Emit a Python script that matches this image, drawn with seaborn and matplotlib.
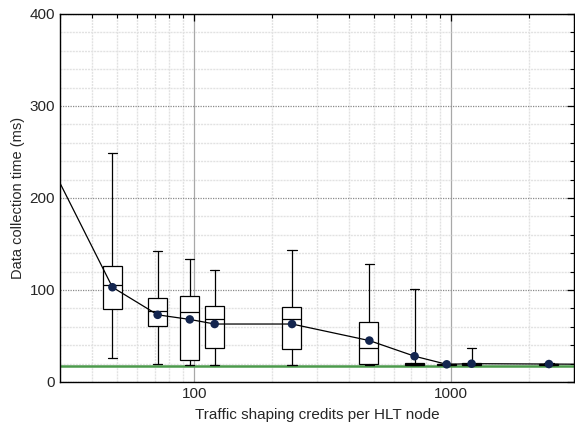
import matplotlib
matplotlib.use("Agg")
import matplotlib.pyplot as plt
import seaborn as sns
import pandas as pd
from matplotlib.ticker import MultipleLocator, LogLocator, NullFormatter

# Box statistics per traffic-shaping credit setting
box_credits = [48, 72, 96, 120, 240, 480, 720, 960, 1200, 2400]
whis_lo = [26, 20, 19, 19, 18.5, 19, 19, 19, 19, 19]
q1 = [79, 60.5, 23.5, 36.5, 35.5, 19.5, 19, 19, 19, 19]
median = [105, 77, 76.5, 68.5, 68, 37, 20, 19.3, 19.7, 19.5]
q3 = [126, 91, 94, 83, 82, 65, 21, 19.6, 20.5, 20]
whis_hi = [249, 142, 134, 122, 143, 128, 101, 20, 36.5, 20.5]

# Mean data collection time (line + dots)
mean_credits = [24, 48, 72, 96, 120, 240, 480, 720, 960, 1200, 2400, 4800]
mean_time = [270, 103, 73, 68, 63, 63, 45, 28, 19.2, 19.9, 19.5, 19]

baseline = 17.5

sns.set_theme(style="white")
plt.rcParams['font.family'] = ['Liberation Sans', 'DejaVu Sans']

fig = plt.figure(figsize=(5.75, 4.29), dpi=100)
ax = fig.add_axes([0.1043, 0.1096, 0.8937, 0.8578])
ax.set_xscale("log")

# grids
ax.xaxis.set_minor_locator(LogLocator(base=10, subs=range(2, 10)))
ax.xaxis.set_minor_formatter(NullFormatter())
ax.yaxis.set_major_locator(MultipleLocator(100))
ax.yaxis.set_minor_locator(MultipleLocator(20))
ax.grid(True, which="minor", color="#e2e2e2", linestyle=(0, (1.5, 0.7)), linewidth=1.0)
ax.grid(True, which="major", axis="y", color="#8a8a8a", linestyle=(0, (1, 1)), linewidth=0.9)
ax.grid(True, which="major", axis="x", color="#a8a8a8", linestyle="-", linewidth=0.9)
ax.set_axisbelow(True)

ax.axhline(baseline, color="#4c9a4c", linewidth=1.8, zorder=2)

stats = []
for i, c in enumerate(box_credits):
    stats.append({"med": median[i], "q1": q1[i], "q3": q3[i],
                  "whislo": whis_lo[i], "whishi": whis_hi[i], "fliers": []})
half = 10 ** 0.0368
widths = [c * (half - 1 / half) for c in box_credits]
ax.bxp(stats, positions=box_credits, widths=widths, patch_artist=True,
       showfliers=False, manage_ticks=False,
       boxprops=dict(facecolor="white", edgecolor="black", linewidth=0.9),
       medianprops=dict(color="black", linewidth=0.9),
       whiskerprops=dict(color="black", linewidth=0.9),
       capprops=dict(color="black", linewidth=0.9))

df = pd.DataFrame({"credits": mean_credits, "time": mean_time})
sns.lineplot(data=df, x="credits", y="time", ax=ax, color="black",
             linewidth=0.9, zorder=4)
sns.scatterplot(data=df, x="credits", y="time", ax=ax, color="#13254f",
                s=38, edgecolor="none", zorder=5)

ax.set_xlim(30, 3000)
ax.set_ylim(0, 400)
ax.set_xticks([100, 1000])
ax.set_xticklabels(["100", "1000"])
ax.set_xlabel("Traffic shaping credits per HLT node", fontsize=11, labelpad=5)
ax.set_ylabel("Data collection time (ms)", fontsize=10.5, labelpad=3)
ax.tick_params(which="both", direction="in", top=True, right=True,
               labelsize=11, color="black")
ax.tick_params(which="major", length=5, width=0.9)
ax.tick_params(which="minor", length=3, width=0.8)
for s in ax.spines.values():
    s.set_color("black")
    s.set_linewidth(1.0)

fig.savefig("out.png", dpi=100)
